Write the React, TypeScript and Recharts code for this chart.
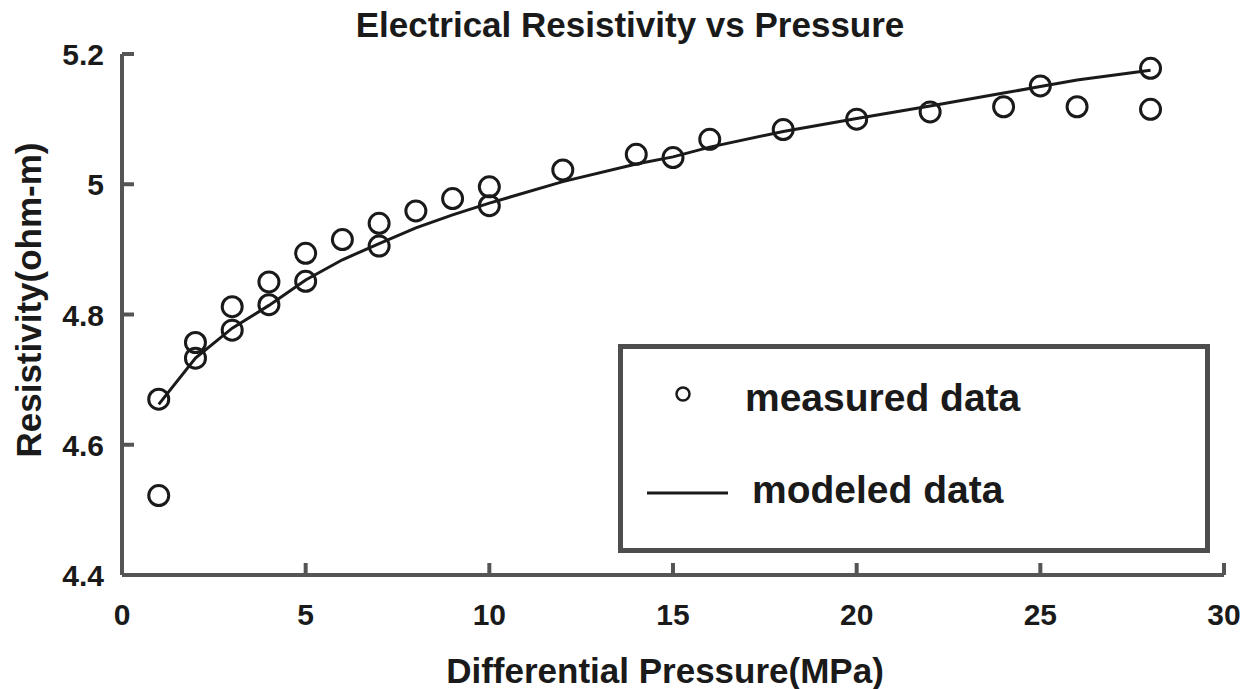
import { ComposedChart, Line, Scatter, XAxis, YAxis } from "recharts";

const measuredX = [1, 1, 2, 2, 3, 3, 4, 4, 5, 5, 6, 7, 7, 8, 9, 10, 10, 12, 14, 15, 16, 18, 20, 22, 24, 25, 26, 28, 28];
const measuredY = [
  4.67, 4.522, 4.757, 4.733, 4.812, 4.776, 4.85, 4.815, 4.894, 4.851, 4.915, 4.94, 4.905, 4.959, 4.978, 4.996,
  4.967, 5.022, 5.046, 5.041, 5.069, 5.084, 5.1, 5.111, 5.119, 5.151, 5.119, 5.178, 5.115,
];

const modeledX = [1, 2, 3, 4, 5, 6, 7, 8, 9, 10, 12, 14, 15, 16, 18, 20, 22, 24, 25, 26, 28];
const modeledY = [
  4.662, 4.733, 4.779, 4.814, 4.853, 4.884, 4.909, 4.933, 4.953, 4.971, 5.004, 5.031, 5.042, 5.057, 5.081, 5.101,
  5.12, 5.14, 5.15, 5.16, 5.175,
];

const xTicks = [0, 5, 10, 15, 20, 25, 30];
const yTicks = [4.4, 4.6, 4.8, 5, 5.2];

const measured = measuredX.map((x, i) => ({ x, y: measuredY[i] }));
const modeled = modeledX.map((x, i) => ({ x, y: modeledY[i] }));

const FONT = '"Liberation Sans", Arial, Helvetica, sans-serif';
const INK = "#1a1a1a";
const AXIS = "#555555";
const TICK_LEN = 12;

// ticks point inward, like a MATLAB box
const BottomTick = (p: any) => (
  <g>
    <line x1={p.x} y1={p.y} x2={p.x} y2={p.y - TICK_LEN} stroke={AXIS} strokeWidth={4} />
    <text x={p.x} y={p.y + 50} textAnchor="middle" fontFamily={FONT} fontWeight="bold" fontSize={30} fill={INK}>
      {p.payload.value}
    </text>
  </g>
);

const TopTick = (p: any) => (
  <line x1={p.x} y1={p.y} x2={p.x} y2={p.y + TICK_LEN} stroke={AXIS} strokeWidth={4} />
);

const LeftTick = (p: any) => (
  <g>
    <line x1={p.x} y1={p.y} x2={p.x + TICK_LEN} y2={p.y} stroke={AXIS} strokeWidth={4} />
    <text x={p.x - 18} y={p.y + 11} textAnchor="end" fontFamily={FONT} fontWeight="bold" fontSize={30} fill={INK}>
      {p.payload.value}
    </text>
  </g>
);

const RightTick = (p: any) => (
  <line x1={p.x} y1={p.y} x2={p.x - TICK_LEN} y2={p.y} stroke={AXIS} strokeWidth={4} />
);

const Ring = (p: any) => (
  <circle cx={p.cx} cy={p.cy} r={10} fill="none" stroke={INK} strokeWidth={3} />
);

export default function App() {
  return (
    <div style={{ position: "absolute", left: 0, top: 0, width: 1253, height: 689, background: "#fff" }}>
      <ComposedChart width={1253} height={689} margin={{ top: 54, right: 29, bottom: 0, left: 0 }}>
        <XAxis
          dataKey="x"
          type="number"
          domain={[0, 30]}
          ticks={xTicks}
          interval={0}
          height={114}
          tickSize={0}
          tickMargin={0}
          tickLine={false}
          axisLine={{ stroke: AXIS, strokeWidth: 4 }}
          tick={BottomTick}
        />
        <XAxis
          xAxisId="top"
          orientation="top"
          dataKey="x"
          type="number"
          domain={[0, 30]}
          ticks={xTicks}
          interval={0}
          height={0}
          tickSize={0}
          tickMargin={0}
          tickLine={false}
          axisLine={{ stroke: AXIS, strokeWidth: 4 }}
          tick={TopTick}
        />
        <YAxis
          dataKey="y"
          type="number"
          domain={[4.4, 5.2]}
          ticks={yTicks}
          interval={0}
          width={122}
          tickSize={0}
          tickMargin={0}
          tickLine={false}
          axisLine={{ stroke: AXIS, strokeWidth: 4 }}
          tick={LeftTick}
        />
        <YAxis
          yAxisId="right"
          orientation="right"
          dataKey="y"
          type="number"
          domain={[4.4, 5.2]}
          ticks={yTicks}
          interval={0}
          width={0}
          tickSize={0}
          tickMargin={0}
          tickLine={false}
          axisLine={{ stroke: AXIS, strokeWidth: 4 }}
          tick={RightTick}
        />
        <Line
          data={modeled}
          dataKey="y"
          type="linear"
          stroke={INK}
          strokeWidth={3}
          dot={false}
          activeDot={false}
          isAnimationActive={false}
        />
        <Scatter data={measured} dataKey="y" shape={Ring} isAnimationActive={false} />
      </ComposedChart>

      <svg width={1253} height={689} style={{ position: "absolute", left: 0, top: 0, pointerEvents: "none" }}>
        <text x={630} y={37} textAnchor="middle" fontFamily={FONT} fontWeight="bold" fontSize={35} fill={INK}>
          Electrical Resistivity vs Pressure
        </text>
        <text x={665} y={683} textAnchor="middle" fontFamily={FONT} fontWeight="bold" fontSize={35} fill={INK}>
          Differential Pressure(MPa)
        </text>
        <text
          transform="translate(41,300) rotate(-90)"
          textAnchor="middle"
          fontFamily={FONT}
          fontWeight="bold"
          fontSize={35}
          fill={INK}
        >
          Resistivity(ohm-m)
        </text>

        <rect x={620.5} y={346.5} width={587} height={204} fill="#fff" stroke="#4d4d4d" strokeWidth={5} />
        <circle cx={683} cy={394} r={6.5} fill="none" stroke={INK} strokeWidth={2.5} />
        <text x={745} y={411} fontFamily={FONT} fontWeight="bold" fontSize={39} fill={INK}>
          measured data
        </text>
        <line x1={647} y1={493} x2={728} y2={493} stroke={INK} strokeWidth={3} />
        <text x={752} y={503} fontFamily={FONT} fontWeight="bold" fontSize={39} fill={INK}>
          modeled data
        </text>
      </svg>
    </div>
  );
}
